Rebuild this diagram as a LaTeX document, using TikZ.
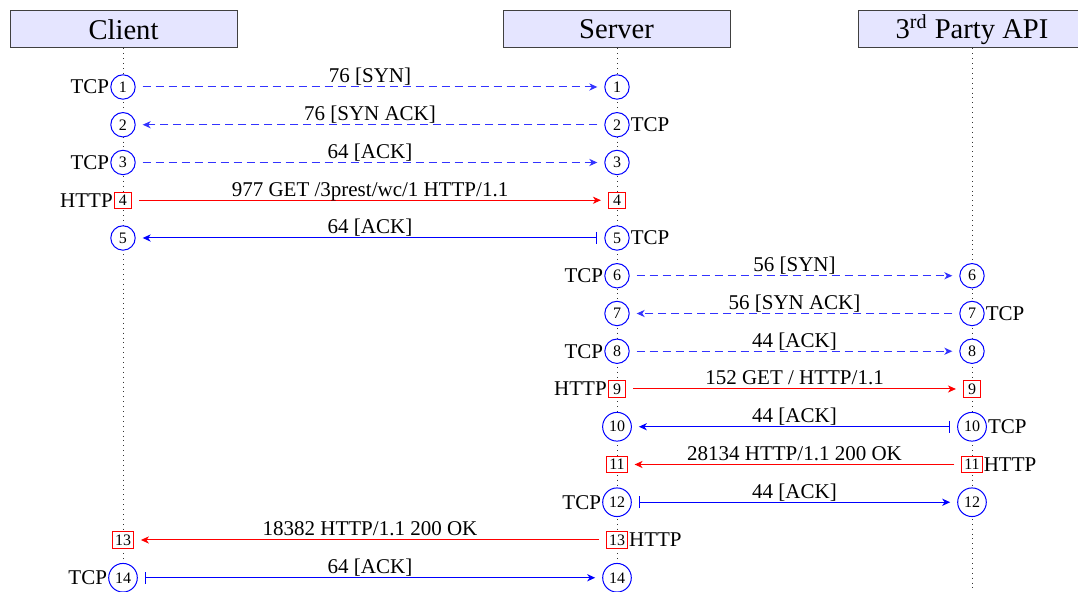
\documentclass[tikz,border=0pt]{standalone}
\usepackage{fontspec}
\setmainfont{Liberation Serif}
\usetikzlibrary{arrows.meta}
\begin{document}
\begin{tikzpicture}[x=0.5pt,y=-0.5pt,
  actor/.style={draw=black!75, fill=blue!10, minimum width=113.5pt, minimum height=18.5pt,
    inner sep=0pt, line width=0.5pt, font=\fontsize{14.3}{16}\selectfont},
  life/.style={dotted, black!80, line width=0.45pt},
  tcpn/.style={circle, draw=blue, fill=white, minimum size=12.2pt, inner sep=1.7pt,
    line width=0.5pt, font=\fontsize{8}{9}\selectfont},
  httpn/.style={rectangle, draw=red, fill=white, minimum width=8.6pt, minimum height=8.2pt,
    inner sep=1.2pt, line width=0.5pt, font=\fontsize{8}{9}\selectfont},
  side/.style={font=\fontsize{10.5}{12}\selectfont, inner sep=0.4pt},
  msgl/.style={font=\fontsize{10.5}{12}\selectfont, anchor=base, yshift=2pt, inner sep=0pt},
  syn/.style={draw=blue!80, line width=0.5pt, dash pattern=on 4pt off 2.5pt,
    -{Stealth[length=4pt,width=3.6pt,inset=1.2pt]}, shorten <=3.5pt, shorten >=3.5pt},
  ack/.style={draw=blue, line width=0.5pt,
    {Bar[width=6pt]}-{Stealth[length=4pt,width=3.6pt,inset=1.2pt]}, shorten <=3.5pt, shorten >=3.5pt},
  req/.style={draw=red, line width=0.5pt,
    -{Stealth[length=4pt,width=3.6pt,inset=1.2pt]}, shorten <=3.5pt, shorten >=3.5pt}
]
\useasboundingbox (0,0) rectangle (1078,592);
% actors
\node[actor] (client) at (123.5,29.5) {Client};
\node[actor] (server) at (616.5,29.5) {Server};
\node[actor] (api) at (972,29.5) {3\textsuperscript{rd} Party API};
\coordinate (cend) at (123,592);
\coordinate (send) at (617,592);
\coordinate (aend) at (972,592);
\draw[life] (client.south -| cend) -- (cend);
\draw[life] (server.south -| send) -- (send);
\draw[life] (api.south -| aend) -- (aend);

% row nodes
\node[tcpn] (c1) at (123,87) {1};        \node[tcpn] (s1) at (617,87) {1};
\node[tcpn] (c2) at (123,124.75) {2};    \node[tcpn] (s2) at (617,124.75) {2};
\node[tcpn] (c3) at (123,162.5) {3};     \node[tcpn] (s3) at (617,162.5) {3};
\node[httpn] (c4) at (123,200.25) {4};   \node[httpn] (s4) at (617,200.25) {4};
\node[tcpn] (c5) at (123,238) {5};       \node[tcpn] (s5) at (617,238) {5};
\node[tcpn] (s6) at (617,275.75) {6};    \node[tcpn] (a6) at (972,275.75) {6};
\node[tcpn] (s7) at (617,313.5) {7};     \node[tcpn] (a7) at (972,313.5) {7};
\node[tcpn] (s8) at (617,351.25) {8};    \node[tcpn] (a8) at (972,351.25) {8};
\node[httpn] (s9) at (617,389) {9};      \node[httpn] (a9) at (972,389) {9};
\node[tcpn] (s10) at (617,426.75) {10};  \node[tcpn] (a10) at (972,426.75) {10};
\node[httpn] (s11) at (617,464.5) {11};  \node[httpn] (a11) at (972,464.5) {11};
\node[tcpn] (s12) at (617,502.25) {12};  \node[tcpn] (a12) at (972,502.25) {12};
\node[httpn] (c13) at (123,540) {13};    \node[httpn] (s13) at (617,540) {13};
\node[tcpn] (c14) at (123,577.75) {14};  \node[tcpn] (s14) at (617,577.75) {14};

% protocol side labels
\node[side, anchor=east] (p1) at (c1.west) {TCP};
\node[side, anchor=west] (p2) at (s2.east) {TCP};
\node[side, anchor=east] (p3) at (c3.west) {TCP};
\node[side, anchor=east] (p4) at (c4.west) {HTTP};
\node[side, anchor=west] (p5) at (s5.east) {TCP};
\node[side, anchor=east] (p6) at (s6.west) {TCP};
\node[side, anchor=west] (p7) at (a7.east) {TCP};
\node[side, anchor=east] (p8) at (s8.west) {TCP};
\node[side, anchor=east] (p9) at (s9.west) {HTTP};
\node[side, anchor=west] (p10) at (a10.east) {TCP};
\node[side, anchor=west] (p11) at (a11.east) {HTTP};
\node[side, anchor=east] (p12) at (s12.west) {TCP};
\node[side, anchor=west] (p13) at (s13.east) {HTTP};
\node[side, anchor=east] (p14) at (c14.west) {TCP};

% messages
\draw[syn] (c1) -- (s1) node[midway, msgl] (m1) {76 [SYN]};
\draw[syn] (s2) -- (c2) node[midway, msgl] (m2) {76 [SYN ACK]};
\draw[syn] (c3) -- (s3) node[midway, msgl] (m3) {64 [ACK]};
\draw[req] (c4) -- (s4) node[midway, msgl] (m4) {977 GET /3prest/wc/1 HTTP/1.1};
\draw[ack] (s5) -- (c5) node[midway, msgl] (m5) {64 [ACK]};
\draw[syn] (s6) -- (a6) node[midway, msgl] (m6) {56 [SYN]};
\draw[syn] (a7) -- (s7) node[midway, msgl] (m7) {56 [SYN ACK]};
\draw[syn] (s8) -- (a8) node[midway, msgl] (m8) {44 [ACK]};
\draw[req] (s9) -- (a9) node[midway, msgl] (m9) {152 GET / HTTP/1.1};
\draw[ack] (a10) -- (s10) node[midway, msgl] (m10) {44 [ACK]};
\draw[req] (a11) -- (s11) node[midway, msgl] (m11) {28134 HTTP/1.1 200 OK};
\draw[ack] (s12) -- (a12) node[midway, msgl] (m12) {44 [ACK]};
\draw[req] (s13) -- (c13) node[midway, msgl] (m13) {18382 HTTP/1.1 200 OK};
\draw[ack] (c14) -- (s14) node[midway, msgl] (m14) {64 [ACK]};
\end{tikzpicture}
\end{document}
